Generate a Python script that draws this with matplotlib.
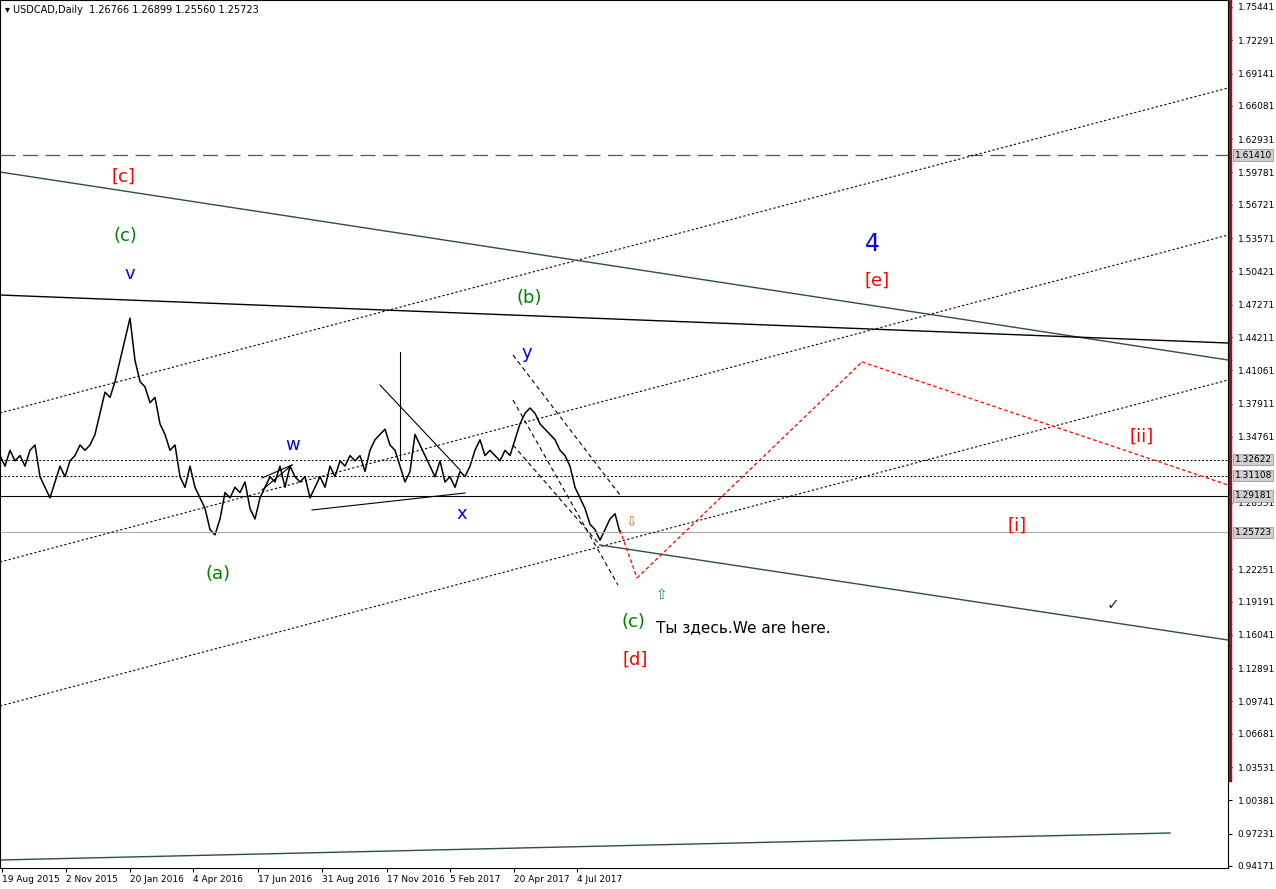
import matplotlib
matplotlib.use("Agg")
import matplotlib.pyplot as plt

# ---- data ----
bar_x = list(range(0, 625, 5))
closes = [1.33,1.32,1.335,1.325,1.33,1.32,1.335,1.34,1.31,1.30,1.29,1.305,1.32,1.31,1.325,1.33,1.34,1.335,1.34,1.35,
          1.37,1.39,1.385,1.40,1.42,1.44,1.46,1.42,1.40,1.395,1.38,1.385,1.36,1.35,1.335,1.34,1.31,1.30,1.32,1.30,
          1.29,1.28,1.26,1.255,1.27,1.295,1.29,1.30,1.295,1.305,1.28,1.27,1.29,1.30,1.31,1.305,1.32,1.30,1.32,1.31,
          1.305,1.31,1.29,1.30,1.31,1.30,1.32,1.31,1.325,1.32,1.33,1.325,1.33,1.315,1.335,1.345,1.35,1.355,1.34,1.335,
          1.32,1.305,1.315,1.35,1.34,1.33,1.32,1.31,1.325,1.305,1.31,1.30,1.315,1.31,1.32,1.335,1.345,1.33,1.335,1.33,
          1.325,1.335,1.33,1.345,1.36,1.37,1.375,1.37,1.36,1.355,1.35,1.345,1.335,1.33,1.32,1.30,1.29,1.28,1.265,1.26,
          1.25,1.26,1.27,1.275,1.257]
date_labels = ["19 Aug 2015","2 Nov 2015","20 Jan 2016","4 Apr 2016","17 Jun 2016","31 Aug 2016",
               "17 Nov 2016","5 Feb 2017","20 Apr 2017","4 Jul 2017"]
date_pos = [2, 66, 130, 193, 258, 322, 387, 450, 514, 577]
price_ticks = [1.75441,1.72291,1.69141,1.66081,1.62931,1.59781,1.56721,1.53571,1.50421,1.47271,1.44211,
               1.41061,1.37911,1.34761,1.28551,1.22251,1.19191,1.16041,1.12891,1.09741,1.06681,
               1.03531,1.00381,0.97231,0.94171]
box_levels = [1.61410, 1.32622, 1.31108, 1.29181, 1.25723]

W, H = 1228, 868
def py(y):  # pixel row -> price
    return 1.7610 - y / 1057.0

fig = plt.figure(figsize=(12.76, 8.89), dpi=100)
ax = fig.add_axes([0, (889 - 868) / 889, W / 1276, 868 / 889])
ax.set_xlim(0, W)
ax.set_ylim(py(868), py(0))

ax.plot(bar_x, closes, color="black", lw=1.1)
ax.plot([400, 400], [py(352), py(460)], color="black", lw=0.8)

ax.axhline(1.61410, color="#555555", lw=0.9, dashes=(12, 6))
ax.axhline(1.29181, color="black", lw=0.8)
ax.axhline(1.25723, color="#aaaaaa", lw=0.8)
ax.axhline(1.32622, color="black", lw=0.7, ls=(0, (2, 2)))
ax.axhline(1.31108, color="black", lw=0.7, ls=(0, (2, 2)))

def seg(x0, y0, x1, y1, **kw):
    ax.plot([x0, x1], [py(y0), py(y1)], **kw)

dot = dict(color="black", lw=0.8, ls=(0, (2, 2)))
seg(0, 413, W, 88, **dot)
seg(0, 562, W, 235, **dot)
seg(0, 706, W, 380, **dot)
green = dict(color="#2f4f3f", lw=1.0)
seg(0, 172, W, 360, **green)
seg(0, 295, W, 343, color="black", lw=1.0)
seg(600, 545, W, 640, **green)
seg(0, 860, 1170, 833, **green)
red = dict(color="red", lw=0.9, ls=(0, (3, 2)))
seg(620, 530, 637, 578, **red)
seg(637, 578, 862, 362, **red)
seg(862, 362, W, 485, **red)
dash = dict(color="black", lw=0.8, ls=(0, (4, 3)))
seg(513, 355, 620, 495, **dash)
seg(513, 400, 618, 585, **dash)
seg(513, 445, 600, 545, **dash)
seg(380, 385, 460, 470, color="black", lw=0.8)
seg(312, 510, 465, 493, color="black", lw=0.8)
seg(262, 478, 292, 465, color="black", lw=0.8)
seg(262, 490, 292, 465, color="black", lw=0.8)

def lab(x, y, s, c, fs=13):
    ax.text(x, py(y), s, color=c, fontsize=fs, ha="center", va="center")
lab(123, 177, "[c]", "red"); lab(125, 236, "(c)", "green"); lab(130, 274, "v", "blue")
lab(529, 298, "(b)", "green"); lab(527, 353, "y", "blue"); lab(293, 445, "w", "blue")
lab(462, 514, "x", "blue"); lab(218, 574, "(a)", "green"); lab(872, 244, "4", "blue", 17)
lab(877, 281, "[e]", "red"); lab(1142, 437, "[ii]", "red"); lab(1017, 526, "[i]", "red")
lab(633, 622, "(c)", "green"); lab(635, 660, "[d]", "red")
ax.text(656, py(628), "Ты здесь.We are here.", fontsize=11, va="center")
lab(1113, 605, "✓", "#222244", 11)
lab(631, 521, "⇩", "#c08020", 10); lab(661, 595, "⇧", "#208080", 10)

ax.text(5, py(10), "▾ USDCAD,Daily  1.26766 1.26899 1.25560 1.25723", fontsize=7, va="center")

ax.yaxis.tick_right()
ax.set_yticks(price_ticks)
ax.set_yticklabels([f"{v:.5f}" for v in price_ticks], fontsize=6.5)
ax.tick_params(axis="y", length=3, pad=4)
ax.set_xticks(date_pos)
ax.set_xticklabels(date_labels, fontsize=6.5, ha="left")
ax.tick_params(axis="x", length=3, pad=2)
for v in box_levels:
    ax.text(1.0055, v, f"{v:.5f}", transform=ax.get_yaxis_transform(), fontsize=6.5, va="center",
            bbox=dict(boxstyle="square,pad=0.15", fc="#d0d0d0", ec="#888888", lw=0.5))
ax.plot([1.002, 1.002], [py(780), py(0)], transform=ax.get_yaxis_transform(), color="#8b1a1a",
        lw=2.5, clip_on=False)
fig.savefig("out.png", dpi=100)
